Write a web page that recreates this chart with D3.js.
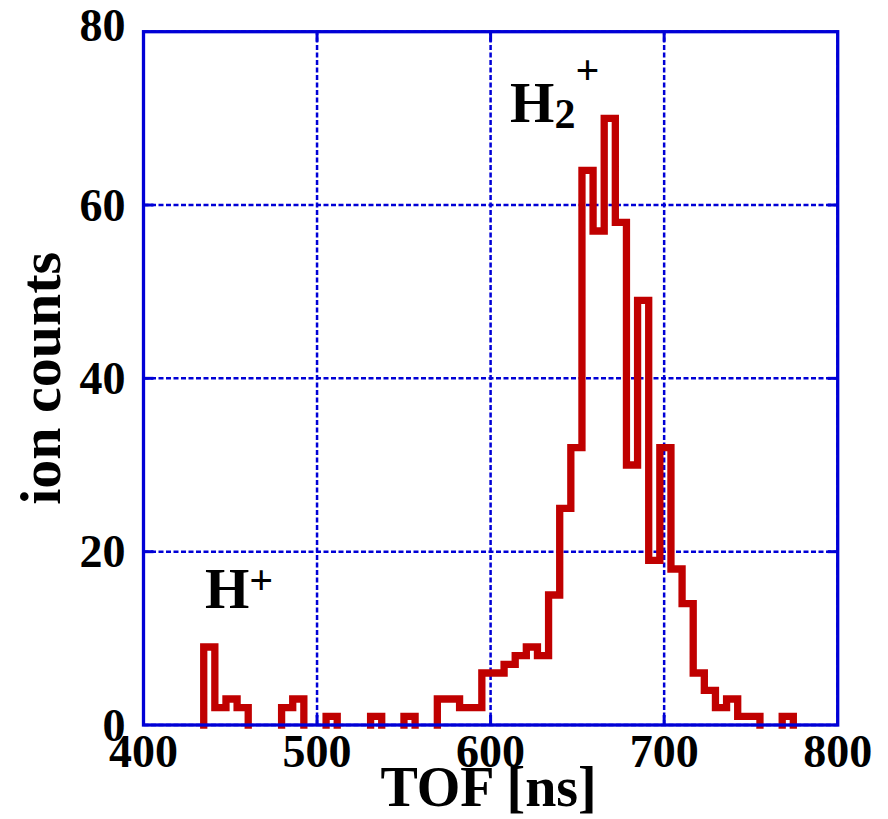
<!DOCTYPE html>
<html>
<head>
<meta charset="utf-8">
<script src="https://cdn.jsdelivr.net/npm/d3@7"></script>
<style>
  body { margin: 0; background: #fff; }
  text { font-family: "Liberation Serif", "Times New Roman", serif; font-weight: bold; fill: #000; }
</style>
</head>
<body>
<script>
// histogram of time of flight, counts per bin
const binStart = 434.7   // ns, left edge of first bin
const binWidth = 6.41    // ns
const counts = [9, 2, 3, 2, 0, 0, 0, 2, 3, 0,
                0, 1, 0, 0, 0, 1, 0, 0, 1, 0,
                0, 3, 3, 2, 2, 6, 6, 7, 8, 9,
                8, 15, 25, 32, 64, 57, 70, 58, 30, 49,
                19, 32, 18, 14, 6, 4, 2, 3, 1, 1,
                0, 0, 1, 0]

const xTicks = [400, 500, 600, 700, 800]
const yTicks = [0, 20, 40, 60, 80]
// peak annotations, placed in data coords (left edge, baseline)
const peakLabels = [
  {name: "H", sub: null, x: 435.4, y: 13.5},
  {name: "H", sub: "2", x: 611.2, y: 69.6}
]

const width = 888, height = 819
const margin = {left: 143.5, right: 50.3, top: 31.7, bottom: 94}
const blue = "#0000d6", red = "#c00000"

const x = d3.scaleLinear().domain([400, 800]).range([margin.left, width - margin.right])
const y = d3.scaleLinear().domain([0, 80]).range([height - margin.bottom, margin.top])

const svg = d3.select("body").append("svg")
    .attr("width", width)
    .attr("height", height)

// dashed grid
const grid = svg.append("g")
    .attr("stroke", blue)
    .attr("stroke-width", 2.5)
    .attr("stroke-dasharray", "5,2.5")
grid.selectAll("line.v").data(xTicks).join("line")
    .attr("class", "v")
    .attr("x1", d => x(d)).attr("x2", d => x(d))
    .attr("y1", y(0)).attr("y2", y(80))
grid.selectAll("line.h").data(yTicks).join("line")
    .attr("class", "h")
    .attr("x1", x(400)).attr("x2", x(800))
    .attr("y1", d => y(d)).attr("y2", d => y(d))

// histogram: one outline per run of non-empty bins
const runs = []
let cur = null
counts.forEach((c, i) => {
  if (c > 0) {
    if (!cur) { cur = []; runs.push(cur) }
    cur.push({left: binStart + i * binWidth, right: binStart + (i + 1) * binWidth, c: c})
  } else cur = null
})

svg.append("g")
    .attr("fill", "none")
    .attr("stroke", red)
    .attr("stroke-width", 7.3)
    .attr("stroke-linecap", "square")
    .attr("stroke-linejoin", "miter")
  .selectAll("path")
  .data(runs)
  .join("path")
    .attr("d", run => {
      const p = d3.path()
      p.moveTo(x(run[0].left), y(0))
      run.forEach(b => { p.lineTo(x(b.left), y(b.c)); p.lineTo(x(b.right), y(b.c)) })
      p.lineTo(x(run[run.length - 1].right), y(0))
      return p.toString()
    })

// frame and inward ticks
svg.append("rect")
    .attr("x", x(400)).attr("y", y(80))
    .attr("width", x(800) - x(400)).attr("height", y(0) - y(80))
    .attr("fill", "none")
    .attr("stroke", blue)
    .attr("stroke-width", 3.3)

const ticks = svg.append("g").attr("stroke", blue).attr("stroke-width", 3)
xTicks.slice(1, -1).forEach(t => {
  ticks.append("line").attr("x1", x(t)).attr("x2", x(t)).attr("y1", y(0)).attr("y2", y(0) - 10)
  ticks.append("line").attr("x1", x(t)).attr("x2", x(t)).attr("y1", y(80)).attr("y2", y(80) + 10)
})
yTicks.slice(1, -1).forEach(t => {
  ticks.append("line").attr("x1", x(400)).attr("x2", x(400) + 10).attr("y1", y(t)).attr("y2", y(t))
  ticks.append("line").attr("x1", x(800)).attr("x2", x(800) - 10).attr("y1", y(t)).attr("y2", y(t))
})

// tick labels
svg.append("g").selectAll("text").data(xTicks).join("text")
    .attr("x", d => x(d))
    .attr("y", y(0) + 42)
    .attr("text-anchor", "middle")
    .attr("font-size", 46)
    .text(d => d)
svg.append("g").selectAll("text").data(yTicks).join("text")
    .attr("x", x(400) - 18)
    .attr("y", d => d === 80 ? 41 : y(d) + 15.5)
    .attr("text-anchor", "end")
    .attr("font-size", 46)
    .text(d => d)

// axis titles
svg.append("text")
    .attr("x", (x(400) + x(800)) / 2 - 2)
    .attr("y", 806)
    .attr("text-anchor", "middle")
    .attr("font-size", 56)
    .text("TOF [ns]")
svg.append("text")
    .attr("transform", `translate(60,${(y(0) + y(80)) / 2}) rotate(-90)`)
    .attr("text-anchor", "middle")
    .attr("font-size", 58)
    .text("ion counts")

// peak labels
peakLabels.forEach(l => {
  const t = svg.append("text")
      .attr("x", x(l.x))
      .attr("y", y(l.y))
      .attr("font-size", 57)
  t.append("tspan").text(l.name)
  if (l.sub) {
    t.append("tspan").attr("font-size", 42).attr("dy", 6).text(l.sub)
    t.append("tspan").attr("font-size", 42).attr("dy", -44).text("+")
  } else {
    t.append("tspan").attr("font-size", 42).attr("dy", -14).text("+")
  }
})
</script>
</body>
</html>
